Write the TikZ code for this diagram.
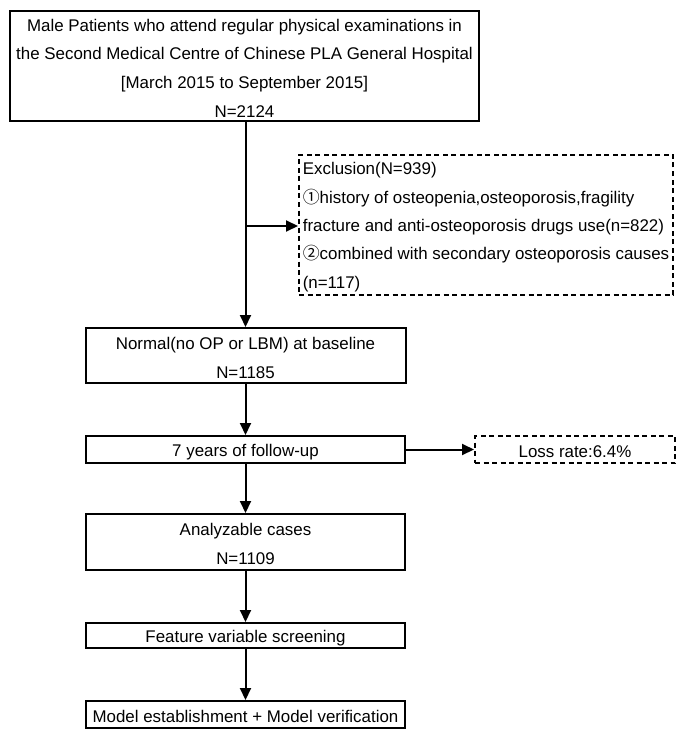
\documentclass[tikz,border=0pt]{standalone}
\usepackage{fontspec}
\setmainfont{Liberation Sans}
\newfontfamily\cjk{Noto Sans CJK SC}
\usetikzlibrary{arrows.meta}
\newcommand\topstrut{\rule{0pt}{16.5pt}}
\begin{document}
\begin{tikzpicture}[x=1pt,y=-1pt,
  box/.style={draw,line width=2pt,inner sep=0pt,align=center,
    font=\fontsize{16.9}{28.7}\selectfont},
  dbox/.style={box,dashed,dash pattern=on 5pt off 3.5pt},
  arr/.style={line width=2pt,-{Triangle[length=12pt,width=11pt]}}]
\useasboundingbox (0,0) rectangle (685,738);
\node[box,minimum width=469pt,minimum height=110pt] (top) at (244.5,66)
  {\topstrut Male Patients who attend regular physical examinations in\\
   the Second Medical Centre of Chinese PLA General Hospital\\
   {[March 2015 to September 2015]}\\
   N=2124};
\node[dbox,minimum width=374pt,minimum height=140pt,align=left,
  font=\fontsize{16.9}{28.4}\selectfont] (excl) at (486,225)
  {\topstrut Exclusion(N=939)\\
   {\cjk ①}history of osteopenia,osteoporosis,fragility\\
   fracture and anti-osteoporosis drugs use(n=822)\\
   {\cjk ②}combined with secondary osteoporosis causes\\
   (n=117)};
\node[box,minimum width=320pt,minimum height=55pt] (normal) at (245.5,355.5)
  {\topstrut Normal(no OP or LBM) at baseline\\N=1185};
\node[box,minimum width=319pt,minimum height=27pt] (follow) at (245.5,449.5)
  {\topstrut 7 years of follow-up};
\node[dbox,minimum width=200pt,minimum height=27pt] (loss) at (575,449.5)
  {\topstrut Loss rate:6.4\%};
\node[box,minimum width=319pt,minimum height=56pt] (anal) at (245.5,542)
  {\topstrut Analyzable cases\\N=1109};
\node[box,minimum width=319pt,minimum height=25pt] (feat) at (245.5,635.5)
  {\topstrut Feature variable screening};
\node[box,minimum width=319pt,minimum height=27pt] (model) at (245.5,714.5)
  {\topstrut Model establishment + Model verification};
\coordinate (br) at (245.5,226);
\draw[arr] (normal.north |- top.south) -- (normal.north);
\draw[arr] (br) -- (br -| excl.west);
\draw[arr] (normal.south) -- (follow.north);
\draw[arr] (follow.east) -- (loss.west);
\draw[arr] (follow.south) -- (anal.north);
\draw[arr] (anal.south) -- (feat.north);
\draw[arr] (feat.south) -- (model.north);
\end{tikzpicture}
\end{document}
